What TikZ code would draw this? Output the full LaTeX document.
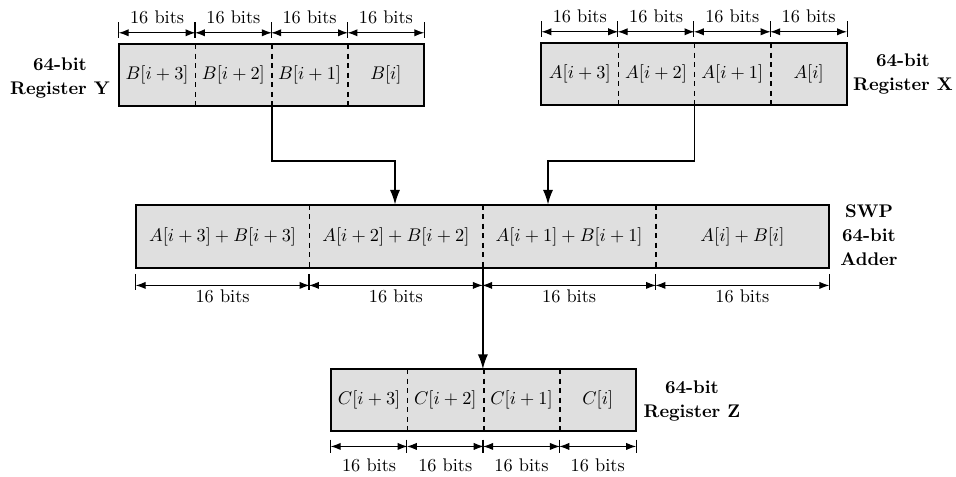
\documentclass[tikz,border=0pt]{standalone}
\usetikzlibrary{arrows.meta}
\def\u{0.546pt}
\tikzset{
  cell/.style={fill=gray!25, draw=none, inner sep=0pt, minimum height=61*\u},
  rcell/.style={cell, minimum width=76.25*\u},
  acell/.style={cell, minimum width=173.25*\u, minimum height=63*\u},
  outer/.style={line width=1pt},
  divider/.style={dash pattern=on 2.8pt off 2.4pt, line width=0.8pt},
  dimline/.style={line width=0.65pt, {Latex[length=5.5pt,width=4pt]}-{Latex[length=5.5pt,width=4pt]}},
  tickline/.style={line width=0.65pt},
  conn/.style={line width=0.9pt, -{Latex[length=8pt,width=5.5pt]}},
  lab/.style={inner sep=0pt},
  side/.style={inner sep=0pt, align=center, font=\bfseries},
}
\begin{document}
\begin{tikzpicture}[x=\u, y=-\u]
\useasboundingbox (0,0) rectangle (956,476);

% Register Y
\node[rcell] (y1) at (157.1,75) {$B[i+3]$};
\node[rcell] (y2) at (233.4,75) {$B[i+2]$};
\node[rcell] (y3) at (309.6,75) {$B[i+1]$};
\node[rcell] (y4) at (385.9,75) {$B[i]$};
% Register X
\node[rcell] (x1) at (579.8,74) {$A[i+3]$};
\node[rcell] (x2) at (656.1,74) {$A[i+2]$};
\node[rcell] (x3) at (732.3,74) {$A[i+1]$};
\node[rcell] (x4) at (808.6,74) {$A[i]$};
% Adder
\node[acell] (a1) at (222.6,236.5) {$A[i+3]+B[i+3]$};
\node[acell] (a2) at (395.9,236.5) {$A[i+2]+B[i+2]$};
\node[acell] (a3) at (569.1,236.5) {$A[i+1]+B[i+1]$};
\node[acell] (a4) at (742.4,236.5) {$A[i]+B[i]$};
% Register Z
\node[rcell] (z1) at (369.1,400) {$C[i+3]$};
\node[rcell] (z2) at (445.3,400) {$C[i+2]$};
\node[rcell] (z3) at (521.5,400) {$C[i+1]$};
\node[rcell] (z4) at (597.7,400) {$C[i]$};

% outlines and dividers
\foreach \r in {y,x,a,z}{
  \draw[outer] (\r1.north west) rectangle (\r4.south east);
  \foreach \k in {1,2,3}{
    \draw[divider] (\r\k.north east) -- (\r\k.south east);
  }
}

% top dimension lines (Y and X)
\foreach \r in {y,x}{
  \foreach \k in {1,2,3,4}{
    \draw[dimline] ([yshift=6.2pt]\r\k.north west) -- ([yshift=6.2pt]\r\k.north east);
    \node[lab] at ([yshift=14.7pt]\r\k.north) {16 bits};
    \draw[tickline] ([yshift=3.6pt]\r\k.north west) -- ([yshift=12pt]\r\k.north west);
  }
  \draw[tickline] ([yshift=3.6pt]\r4.north east) -- ([yshift=12pt]\r4.north east);
}
% adder dimension lines
\foreach \k in {1,2,3,4}{
  \draw[dimline] ([yshift=-9.3pt]a\k.south west) -- ([yshift=-9.3pt]a\k.south east);
  \node[lab] at ([yshift=-15.3pt]a\k.south) {16 bits};
  \draw[tickline] ([yshift=-3pt]a\k.south west) -- ([yshift=-12pt]a\k.south west);
}
\draw[tickline] ([yshift=-3pt]a4.south east) -- ([yshift=-12pt]a4.south east);
% Z dimension lines
\foreach \k in {1,2,3,4}{
  \draw[dimline] ([yshift=-8.5pt]z\k.south west) -- ([yshift=-8.5pt]z\k.south east);
  \node[lab] at ([yshift=-18.6pt]z\k.south) {16 bits};
  \draw[tickline] ([yshift=-4.8pt]z\k.south west) -- ([yshift=-12pt]z\k.south west);
}
\draw[tickline] ([yshift=-4.8pt]z4.south east) -- ([yshift=-12pt]z4.south east);

% connectors
\coordinate (jy) at (395,160.7);
\coordinate (jx) at (548,160.7);
\draw[conn] (y2.south east) |- (jy) -- (jy |- a2.north);
\draw[conn] (x2.south east) |- (jx) -- (jx |- a3.north);
\draw[conn] (a2.south east) -- (a2.south east |- z2.north);

% side labels
\node[side] (ly) at (60,78) {64-bit\\[1pt]Register Y};
\node[side] (lx) at (903,74) {64-bit\\[1pt]Register X};
\node[side] (la) at (869,235) {SWP\\[1pt]64-bit\\[1pt]Adder};
\node[side] (lz) at (692,401) {64-bit\\[1pt]Register Z};
\end{tikzpicture}
\end{document}
